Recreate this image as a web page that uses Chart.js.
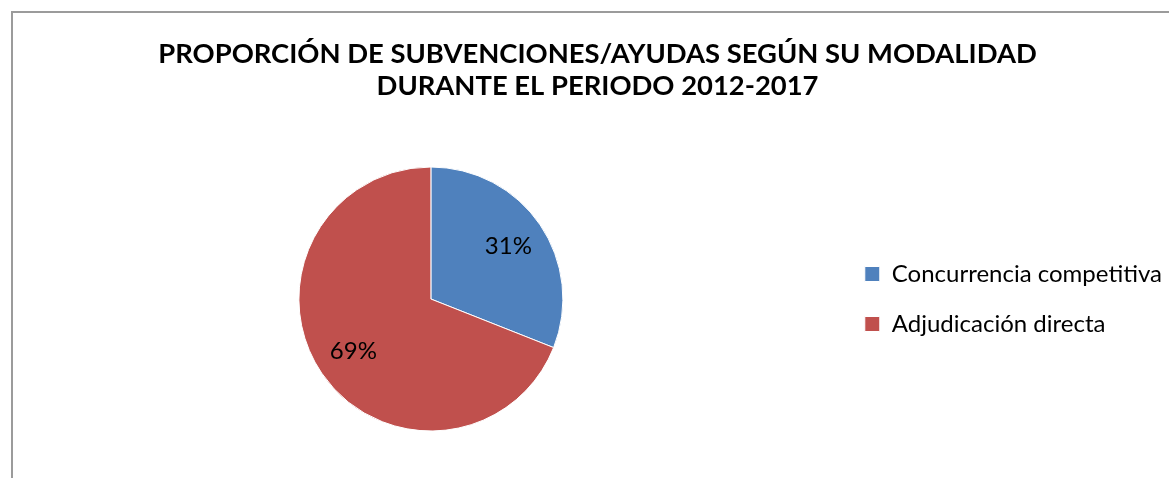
<!DOCTYPE html>
<html>
<head>
<meta charset="utf-8">
<title>Subvenciones por modalidad</title>
<script src="https://cdn.jsdelivr.net/npm/chart.js@4"></script>
<style>
  html, body { margin: 0; padding: 0; background: #fff; overflow: hidden; }
  body { width: 1169px; height: 478px; position: relative; }
  #frame {
    position: absolute; left: 11px; top: 11px; width: 1200px; height: 500px;
    border-left: 2px solid #9b9b9b; border-top: 2px solid #9b9b9b;
  }
  #chart { position: absolute; left: 0; top: 0; }
</style>
</head>
<body>
<div id="frame"></div>
<canvas id="chart" width="1203" height="520"></canvas>
<script>
// Data
const titleLines = [
  'PROPORCIÓN DE SUBVENCIONES/AYUDAS SEGÚN SU MODALIDAD',
  'DURANTE EL PERIODO 2012-2017'
];
const categories = ['Concurrencia competitiva', 'Adjudicación directa'];
const shares = [31, 69];
const sliceColors = ['#4F81BD', '#C0504D'];

const FONT = 'Lato, "Open Sans", sans-serif';

// Percent labels inside each slice
const sliceLabels = {
  id: 'sliceLabels',
  afterDatasetsDraw(chart) {
    const { ctx } = chart;
    const meta = chart.getDatasetMeta(0);
    ctx.save();
    ctx.font = '24px ' + FONT;
    ctx.fillStyle = '#000';
    ctx.textAlign = 'center';
    ctx.textBaseline = 'middle';
    meta.data.forEach((arc, i) => {
      const p = arc.getProps(['x', 'y', 'startAngle', 'endAngle', 'outerRadius'], true);
      const mid = (p.startAngle + p.endAngle) / 2;
      const r = p.outerRadius * 0.71;
      ctx.fillText(shares[i] + '%', p.x + Math.cos(mid) * r, p.y + Math.sin(mid) * r);
    });
    ctx.restore();
  }
};

new Chart(document.getElementById('chart'), {
  type: 'pie',
  data: {
    labels: categories,
    datasets: [{
      data: shares,
      backgroundColor: sliceColors,
      borderColor: '#ffffff',
      borderWidth: 1
    }]
  },
  options: {
    responsive: false,
    animation: false,
    radius: 132,
    layout: { padding: { left: 23, right: 31, top: 0, bottom: 24 } },
    plugins: {
      title: {
        display: true,
        text: titleLines,
        color: '#000',
        font: { family: FONT, size: 27.4, weight: 'bold', lineHeight: '32px' },
        padding: { top: 38, bottom: 0 }
      },
      legend: {
        position: 'right',
        fullSize: false,
        labels: {
          color: '#000',
          font: { family: FONT, size: 24 },
          boxWidth: 15,
          boxHeight: 15,
          padding: 26
        }
      },
      tooltip: { enabled: false }
    }
  },
  plugins: [sliceLabels]
});
</script>
</body>
</html>
